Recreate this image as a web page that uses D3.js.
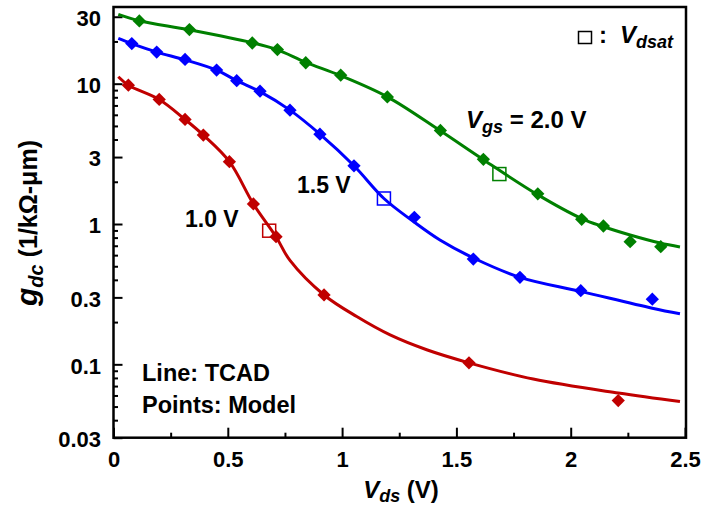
<!DOCTYPE html>
<html>
<head>
<meta charset="utf-8">
<script src="https://cdn.jsdelivr.net/npm/d3@7"></script>
<style>
  body { margin: 0; background: #fff; }
  svg { display: block; font-family: Arial, "Liberation Sans", sans-serif; font-weight: bold; }
</style>
</head>
<body>
<svg id="chart" width="704" height="508"></svg>
<script>
// tick values
var vdsTicks = [0, 0.5, 1, 1.5, 2, 2.5];
var vdsMinor = [0.25, 0.75, 1.25, 1.75, 2.25];
var gTicks = [0.03, 0.1, 0.3, 1, 3, 10, 30];
var gMinor = [0.04, 0.05, 0.06, 0.07, 0.08, 0.09, 0.2, 0.4, 0.5, 0.6, 0.7, 0.8, 0.9,
              2, 4, 5, 6, 7, 8, 9, 20];

// Vgs = 1.0 V  [Vds, gdc]
var tcad10 = [[0.021, 11.2], [0.065, 9.76], [0.200, 7.72], [0.313, 5.56], [0.393, 4.30],
              [0.507, 2.78], [0.612, 1.39], [0.711, 0.812], [0.772, 0.55], [0.921, 0.312],
              [1.064, 0.219], [1.210, 0.162], [1.370, 0.127], [1.555, 0.1025], [1.836, 0.0785],
              [2.208, 0.0624], [2.478, 0.0543]];
var model10 = [[0.065, 9.76], [0.200, 7.72], [0.313, 5.56], [0.393, 4.30], [0.507, 2.78],
               [0.612, 1.39], [0.711, 0.812], [0.921, 0.312], [1.555, 0.1025], [2.208, 0.0552]];
var vdsat10 = [0.681, 0.896];

// Vgs = 1.5 V
var tcad15 = [[0.021, 21.0], [0.080, 19.3], [0.189, 16.8], [0.313, 14.8], [0.451, 12.5],
              [0.539, 10.5], [0.641, 8.77], [0.772, 6.48], [0.903, 4.37], [1.052, 2.60],
              [1.183, 1.52], [1.315, 1.033], [1.428, 0.769], [1.577, 0.570], [1.778, 0.417],
              [2.044, 0.331], [2.357, 0.251], [2.478, 0.229]];
var model15 = [[0.080, 19.3], [0.189, 16.8], [0.313, 14.9], [0.451, 12.5], [0.539, 10.5],
               [0.641, 8.85], [0.772, 6.48], [0.903, 4.37], [1.052, 2.60], [1.316, 1.116],
               [1.574, 0.563], [1.778, 0.417], [2.044, 0.335], [2.357, 0.291]];
var vdsat15 = [1.183, 1.52];

// Vgs = 2.0 V
var tcad20 = [[0.021, 31.2], [0.113, 28.1], [0.332, 24.2], [0.606, 19.6], [0.715, 17.5],
              [0.841, 14.2], [0.994, 11.4], [1.198, 8.05], [1.428, 4.63], [1.621, 2.85],
              [1.855, 1.62], [2.048, 1.094], [2.141, 0.96], [2.260, 0.835], [2.391, 0.732],
              [2.478, 0.686]];
var model20 = [[0.113, 28.0], [0.332, 24.3], [0.607, 19.5], [0.717, 17.5], [0.841, 14.1],
               [0.994, 11.5], [1.198, 8.05], [1.430, 4.64], [1.618, 2.89], [1.856, 1.64],
               [2.048, 1.08], [2.143, 0.968], [2.260, 0.748], [2.394, 0.689]];
var vdsat20 = [1.688, 2.27];

var colors = ["#c00000", "#0000ff", "#008000"];

var series = [
  { tcad: tcad10, model: model10, vdsat: vdsat10, color: colors[0] },
  { tcad: tcad15, model: model15, vdsat: vdsat15, color: colors[1] },
  { tcad: tcad20, model: model20, vdsat: vdsat20, color: colors[2] }
];

// plot box (window.top is taken, so no "top" here)
var plotL = 113.5, plotR = 685, plotT = 7, plotB = 437.7;

var svg = d3.select("#chart");

var x = d3.scaleLinear().domain([0, 2.5]).range([plotL, plotR]);
var y = d3.scaleLog().domain([0.03, 35.2]).range([plotB, plotT]);

// minor ticks first, no labels
svg.append("g")
  .attr("transform", "translate(0," + plotB + ")")
  .call(d3.axisBottom(x).tickValues(vdsMinor).tickSize(-5).tickFormat(""))
  .call(function(g) { g.select(".domain").remove(); });

svg.append("g")
  .attr("transform", "translate(" + plotL + ",0)")
  .call(d3.axisLeft(y).tickValues(gMinor).tickSize(-4.5).tickFormat(""))
  .call(function(g) { g.select(".domain").remove(); });

// major ticks with labels
var xAxis = svg.append("g")
  .attr("transform", "translate(0," + plotB + ")")
  .call(d3.axisBottom(x).tickValues(vdsTicks).tickSize(-10).tickPadding(0)
    .tickFormat(function(d) { return String(d); }));
xAxis.select(".domain").remove();
xAxis.selectAll("text").attr("y", 29).attr("dy", 0);

var yAxis = svg.append("g")
  .attr("transform", "translate(" + plotL + ",0)")
  .call(d3.axisLeft(y).tickValues(gTicks).tickSize(-9)
    .tickFormat(function(d) { return String(d); }));
yAxis.select(".domain").remove();
yAxis.selectAll("text").attr("x", -12.5).attr("dy", "0.4em");

svg.selectAll(".tick line").attr("stroke", "#000").attr("stroke-width", 2);
svg.selectAll(".tick text")
  .attr("fill", "#000")
  .style("font-size", "22px")
  .style("font-family", "Arial, 'Liberation Sans', sans-serif")
  .style("font-weight", "bold");

// frame
svg.append("rect")
  .attr("x", plotL)
  .attr("y", plotT)
  .attr("width", plotR + 1 - plotL)
  .attr("height", plotB - plotT)
  .attr("fill", "none")
  .attr("stroke", "#000")
  .attr("stroke-width", 2.5);

var line = d3.line()
  .x(function(d) { return x(d[0]); })
  .y(function(d) { return y(d[1]); })
  .curve(d3.curveCatmullRom.alpha(0.5));

var diamond = d3.symbol().type(d3.symbolSquare).size(88);

series.forEach(function(s) {
  svg.append("path")
    .datum(s.tcad)
    .attr("d", line)
    .attr("fill", "none")
    .attr("stroke", s.color)
    .attr("stroke-width", 3);

  svg.selectAll(null)
    .data(s.model)
    .enter().append("path")
    .attr("d", diamond)
    .attr("transform", function(d) {
      return "translate(" + x(d[0]) + "," + y(d[1]) + ") rotate(45)";
    })
    .attr("fill", s.color);

  svg.append("rect")
    .attr("x", x(s.vdsat[0]) - 6.5)
    .attr("y", y(s.vdsat[1]) - 6.5)
    .attr("width", 13)
    .attr("height", 13)
    .attr("fill", "none")
    .attr("stroke", s.color)
    .attr("stroke-width", 1.5);
});

// labels
function label(px, py, size) {
  return svg.append("text").attr("x", px).attr("y", py).style("font-size", size + "px");
}

label(185, 227, 23).text("1.0 V");
label(297, 193, 23).text("1.5 V");

var vgs = label(466, 128, 24);
vgs.append("tspan").style("font-style", "italic").text("V");
vgs.append("tspan").style("font-style", "italic").style("font-size", "18px").attr("dy", 5).text("gs");
vgs.append("tspan").attr("dy", -5).text(" = 2.0 V");

svg.append("rect")
  .attr("x", 578.5).attr("y", 31.5)
  .attr("width", 13).attr("height", 12)
  .attr("fill", "none").attr("stroke", "#000").attr("stroke-width", 1.5);
label(599, 43, 24).text(":");
var vdsat = label(620, 43, 24);
vdsat.append("tspan").style("font-style", "italic").text("V");
vdsat.append("tspan").style("font-style", "italic").style("font-size", "18px").attr("dy", 5).text("dsat");

label(142, 381, 23.5).text("Line: TCAD");
label(142, 413, 23.5).text("Points: Model");

// axis titles
var xt = label(401, 498, 24).attr("text-anchor", "middle");
xt.append("tspan").style("font-style", "italic").text("V");
xt.append("tspan").style("font-style", "italic").style("font-size", "18px").attr("dy", 4).text("ds");
xt.append("tspan").attr("dy", -4).text(" (V)");

var yt = svg.append("text")
  .attr("transform", "translate(37,223) rotate(-90)")
  .attr("text-anchor", "middle")
  .style("font-size", "25px");
yt.append("tspan").style("font-style", "italic").style("font-size", "30px").text("g");
yt.append("tspan").style("font-style", "italic").style("font-size", "20px").attr("dy", 6).text("dc");
yt.append("tspan").attr("dy", -6).text(" (1/k\u03a9-\u03bcm)");
</script>
</body>
</html>
